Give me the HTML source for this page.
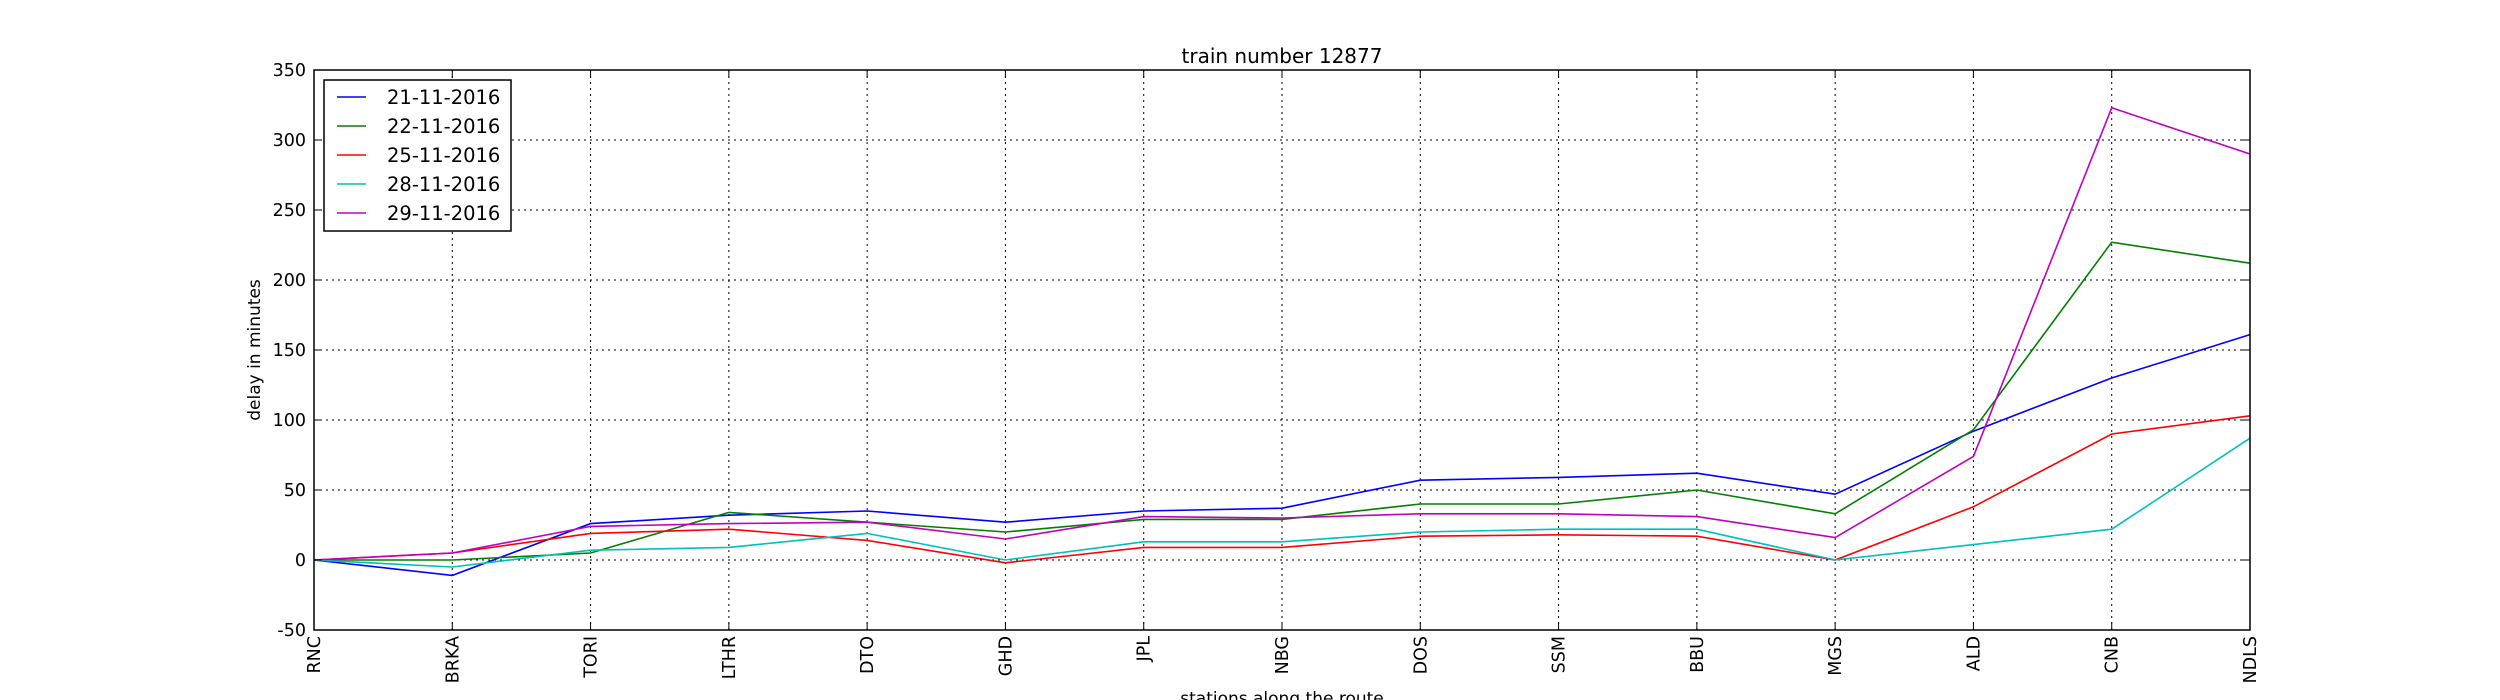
<!DOCTYPE html>
<html><head><meta charset="utf-8"><style>
html,body{margin:0;padding:0;background:#fff;}
svg{display:block;font-family:"DejaVu Sans","Liberation Sans",sans-serif;}
</style></head><body>
<svg id="chart" width="2500" height="700" viewBox="0 0 2500 700">
<rect width="2500" height="700" fill="#fff"/>
<g id="grid"></g>
<g id="lines"></g>
<g id="axes"></g>
<g id="legend"></g>
</svg>
<script>
const stations = ["RNC","BRKA","TORI","LTHR","DTO","GHD","JPL","NBG","DOS","SSM","BBU","MGS","ALD","CNB","NDLS"];
const yTicks = [-50,0,50,100,150,200,250,300,350];
const seriesNames = ["21-11-2016","22-11-2016","25-11-2016","28-11-2016","29-11-2016"];
const seriesColors = ["#0000ff","#008000","#ff0000","#00bfbf","#bf00bf"];
const s21 = [0,-11,26,32,35,27,35,37,57,59,62,47,92,130,161];
const s22 = [0,0,5,34,27,20,29,29,40,40,50,33,93,227,212];
const s25 = [0,5,19,22,14,-2,9,9,17,18,17,0,38,90,103];
const s28 = [0,-5,7,9,19,0,13,13,20,22,22,0,11,22,87];
const s29 = [0,5,24,26,27,15,31,30,33,33,31,16,74,323,290];
const seriesData = [s21,s22,s25,s28,s29];

const NS="http://www.w3.org/2000/svg";
const L=314,R=2250,T=70,B=630,YMIN=-50,YMAX=350;
const xs=i=>L+(R-L)*i/(stations.length-1);
const ys=v=>B-(v-YMIN)/(YMAX-YMIN)*(B-T);
function mk(tag,attrs,parent){const e=document.createElementNS(NS,tag);for(const k in attrs)e.setAttribute(k,attrs[k]);parent.appendChild(e);return e;}
const grid=document.getElementById('grid'),axes=document.getElementById('axes'),lines=document.getElementById('lines'),legend=document.getElementById('legend');

yTicks.forEach(v=>{
  const y=ys(v);
  if(v>YMIN&&v<YMAX){const g=mk('line',{x1:L,x2:R,y1:y,y2:y,stroke:'#000','stroke-width':1,'stroke-dasharray':'2,4'},grid);
  
  }
  mk('line',{x1:L,x2:L+8,y1:y,y2:y,stroke:'#000'},axes);
  mk('line',{x1:R-8,x2:R,y1:y,y2:y,stroke:'#000'},axes);
  const t=mk('text',{x:L-8,y:y+6,'text-anchor':'end','font-size':17.5},axes);
  t.textContent=v;
  
  
});
stations.forEach((s,i)=>{
  const x=xs(i);
  if(i>0&&i<stations.length-1){const g=mk('line',{x1:x,x2:x,y1:T,y2:B,stroke:'#000','stroke-width':1,'stroke-dasharray':'2,4'},grid);
  
  }
  mk('line',{x1:x,x2:x,y1:B,y2:B-8,stroke:'#000'},axes);
  mk('line',{x1:x,x2:x,y1:T,y2:T+8,stroke:'#000'},axes);
  const t=mk('text',{x:0,y:0,'text-anchor':'end','font-size':17.5,transform:`translate(${x+6},${B+6}) rotate(-90)`},axes);
  t.textContent=s;
  
  
});
const frame=mk('rect',{x:L,y:T,width:R-L,height:B-T,fill:'none',stroke:'#000','stroke-width':1.5},axes);



seriesData.forEach((d,k)=>{
  const p=mk('polyline',{points:d.map((v,i)=>xs(i)+','+ys(v)).join(' '),fill:'none',stroke:seriesColors[k],'stroke-width':1.6},lines);
  
  
});

const title=mk('text',{x:(L+R)/2,y:63,'text-anchor':'middle','font-size':20},axes);
title.textContent='train number 12877';


const xl=mk('text',{x:(L+R)/2,y:704,'text-anchor':'middle','font-size':17},axes);
xl.textContent='stations along the route';


const yl=mk('text',{x:0,y:0,'text-anchor':'middle','font-size':17,transform:`translate(260,${(T+B)/2}) rotate(-90)`},axes);
yl.textContent='delay in minutes';



const lb=mk('rect',{x:324,y:80,width:187,height:151,fill:'#fff',stroke:'#000','stroke-width':1.5},legend);


seriesNames.forEach((n,k)=>{
  const y=97+k*29;
  const g=mk('g',{},legend);
  
  
  mk('line',{x1:337,x2:366,y1:y,y2:y,stroke:seriesColors[k],'stroke-width':1.6},g);
  const t=mk('text',{x:387,y:y+7,'font-size':19.5},g);
  t.textContent=n;
});
</script>
</body></html>
